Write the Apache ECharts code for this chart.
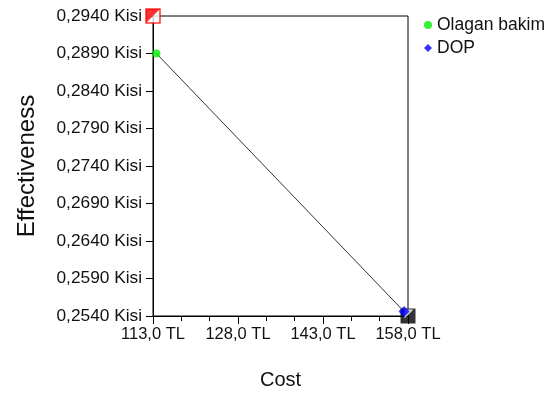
<!DOCTYPE html>
<html>
<head>
<meta charset="utf-8">
<script src="https://cdn.jsdelivr.net/npm/echarts@6/dist/echarts.min.js"></script>
<style>html,body{margin:0;padding:0;background:#fff;}#c{width:552px;height:400px;}</style>
</head>
<body>
<div id="c"></div>
<script>
// Data
const seriesNames = ['Olagan bakim', 'DOP'];
const olaganCost = [113.6];
const olaganEff = [0.2890];
const dopCost = [157.3];
const dopEff = [0.2546];
const cornerTopLeft = [113, 0.2940];
const cornerBottomRight = [158, 0.2540];
const xTicks = [113, 128, 143, 158];
const yTicks = [0.2540, 0.2590, 0.2640, 0.2690, 0.2740, 0.2790, 0.2840, 0.2890, 0.2940];

const font = 'Liberation Sans, Arial, sans-serif';
const chart = echarts.init(document.getElementById('c'));
chart.setOption({
  animation: false,
  backgroundColor: '#fff',
  textStyle: { fontFamily: font },
  grid: { left: 153, top: 16, right: 144, bottom: 84, show: true, borderColor: '#000', borderWidth: 1, backgroundColor: 'transparent' },
  legend: {
    data: seriesNames, orient: 'vertical', left: 424, top: 16, itemGap: 5, padding: 0,
    itemWidth: 8, itemHeight: 8,
    textStyle: { fontFamily: font, fontSize: 17.5, color: '#111', padding: [0, 0, 0, 0] }
  },
  xAxis: {
    type: 'value', min: xTicks[0], max: xTicks[xTicks.length - 1], interval: 15,
    name: 'Cost', nameLocation: 'middle', nameGap: 54,
    nameTextStyle: { fontFamily: font, fontSize: 20, color: '#111' },
    axisLine: { lineStyle: { color: '#000', width: 1 } },
    axisTick: { show: true, length: 8, lineStyle: { color: '#000' } },
    minorTick: { show: true, splitNumber: 3, length: 5, lineStyle: { color: '#000' } },
    splitLine: { show: false },
    axisLabel: { fontFamily: font, fontSize: 16.5, color: '#111', margin: 10,
      formatter: v => v.toFixed(1).replace('.', ',') + ' TL' }
  },
  yAxis: {
    type: 'value', min: yTicks[0], max: yTicks[yTicks.length - 1], interval: 0.005,
    name: 'Effectiveness', nameLocation: 'middle', nameGap: 114,
    nameTextStyle: { fontFamily: font, fontSize: 24, color: '#111' },
    axisLine: { lineStyle: { color: '#000', width: 1 } },
    axisTick: { show: true, length: 7, lineStyle: { color: '#000' } },
    splitLine: { show: false },
    axisLabel: { fontFamily: font, fontSize: 17.3, color: '#111', margin: 11,
      formatter: v => v.toFixed(4).replace('.', ',') + ' Kisi' }
  },
  series: [
    { type: 'line', name: 'link', data: [[olaganCost[0], olaganEff[0]], [dopCost[0], dopEff[0]]],
      symbol: 'none', lineStyle: { color: '#333', width: 1 }, z: 2, silent: true },
    { type: 'scatter', name: 'cornerTL', data: [cornerTopLeft], symbol: 'rect', symbolSize: 14,
      itemStyle: { color: '#fff', borderColor: '#ff0000', borderWidth: 1.5 }, z: 3 },
    { type: 'scatter', name: 'cornerTLfill', data: [cornerTopLeft], symbol: 'path://M0,0 L10,0 L0,10 Z', symbolSize: 14,
      itemStyle: { color: '#ff0000' }, z: 4 },
    { type: 'scatter', name: 'cornerBR', data: [cornerBottomRight], symbol: 'rect', symbolSize: 15,
      itemStyle: { color: '#000' }, z: 3 },
    { type: 'scatter', name: 'cornerBRmark', data: [cornerBottomRight], symbol: 'path://M3,0 L10,0 L3,7 Z', symbolSize: 9, symbolOffset: [1, -2],
      itemStyle: { color: '#fff' }, z: 4 },
    { type: 'scatter', name: seriesNames[0], data: olaganCost.map((c, i) => [c, olaganEff[i]]),
      symbol: 'circle', symbolSize: 8, itemStyle: { color: '#00ee00' }, z: 5 },
    { type: 'scatter', name: seriesNames[1], data: dopCost.map((c, i) => [c, dopEff[i]]),
      symbol: 'diamond', symbolSize: 11, itemStyle: { color: '#0000ff' }, z: 5 }
  ]
});
</script>
</body>
</html>
